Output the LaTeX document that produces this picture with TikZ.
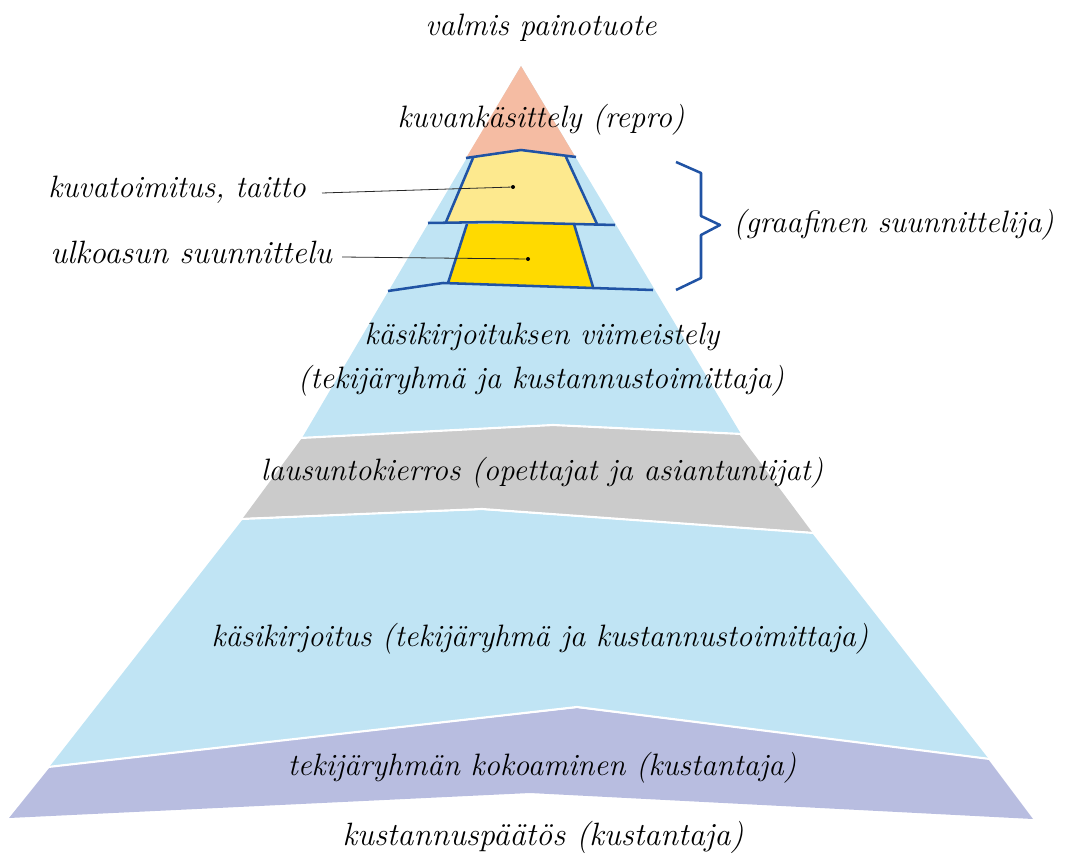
\documentclass[tikz,border=0pt]{standalone}
\definecolor{salmon}{HTML}{F5BCA3}
\definecolor{skyb}{HTML}{C0E4F4}
\definecolor{paley}{HTML}{FDE98E}
\definecolor{goldy}{HTML}{FFDA00}
\definecolor{grayb}{HTML}{CBCBCB}
\definecolor{lilac}{HTML}{B8BDE0}
\definecolor{lineblue}{HTML}{2053A4}
\begin{document}
\begin{tikzpicture}[x=0.75pt,y=-0.75pt,
  lbl/.style={font=\fontsize{23.2}{27}\selectfont\itshape, inner sep=0pt, anchor=base},
  lblw/.style={lbl, anchor=base west},
  big/.style={font=\fontsize{24.2}{28}\selectfont\itshape},
  sep/.style={draw=white, line width=1.6pt},
  bl/.style={draw=lineblue, line width=1.9pt, line join=round},
  leader/.style={draw=black!85, line width=0.6pt},
  dotn/.style={circle, fill=black, inner sep=0pt, minimum size=3pt}]
\useasboundingbox (0,0) rectangle (1066,859);
% fills
\fill[skyb] (521,66) -- (741,434) -- (553,425) -- (302,438) -- cycle;
\fill[salmon] (521,66) -- (576,158) -- (521,150) -- (466,158) -- cycle;
\fill[paley] (473,158) -- (521,151) -- (566,157) -- (597,224) -- (446,222) -- cycle;
\fill[goldy] (467,224) -- (574,224) -- (593,287) -- (448,283) -- cycle;
\fill[grayb] (302,438) -- (553,425) -- (739,434) -- (812,532) -- (482,509) -- (243,518) -- cycle;
\fill[skyb] (243,519) -- (482,510) -- (812,533) -- (988,758) -- (577,707) -- (50,766) -- cycle;
\fill[lilac] (50,767) -- (577,708) -- (988,759) -- (1033,819) -- (530,793) -- (9,818) -- cycle;
% white separators
\draw[sep] (300,438) -- (553,425) -- (742,434);
\draw[sep] (241,519) -- (482,509) -- (814,533);
\draw[sep] (48,767) -- (577,707) -- (990,759);
% blue outlines
\draw[bl] (466,158) -- (521,150) -- (576,157);
\draw[bl] (473,158) -- (446,222);
\draw[bl] (566,157) -- (597,224);
\draw[bl] (428,223) -- (493,222) -- (615,225);
\draw[bl] (467,224) -- (448,283);
\draw[bl] (574,224) -- (593,287);
\draw[bl] (388,291) -- (443,283) -- (653,290);
% brace
\draw[bl] (676,162) -- (701,173) -- (701,216) -- (720,225) -- (701,235) -- (701,278) -- (676,290);
% labels
\node[lbl] (top) at (541,36) {valmis painotuote};
\node[lbl] (repro) at (541,128) {kuvankäsittely (repro)};
\node[lblw] (kuva) at (48,198) {kuvatoimitus, taitto};
\node[lblw, big] (ulko) at (50,263) {ulkoasun suunnittelu};
\node[lblw] (graaf) at (733,233) {(graafinen suunnittelija)};
\node[lbl] (viim) at (542,344) {käsikirjoituksen viimeistely};
\node[lbl] (viim2) at (541,388) {(tekijäryhmä ja kustannustoimittaja)};
\node[lbl] (laus) at (542,480) {lausuntokierros (opettajat ja asiantuntijat)};
\node[lbl] (kasi) at (540,646) {käsikirjoitus (tekijäryhmä ja kustannustoimittaja)};
\node[lbl] (koko) at (542,775) {tekijäryhmän kokoaminen (kustantaja)};
\node[lbl, big] (paat) at (543,845) {kustannuspäätös (kustantaja)};
% leaders
\node[dotn] (d1) at (513,187) {};
\node[dotn] (d2) at (528,259) {};
\coordinate (s1) at (322,193);
\coordinate (s2) at (342,257);
\draw[leader] (s1) -- (d1);
\draw[leader] (s2) -- (d2);
\end{tikzpicture}
\end{document}
